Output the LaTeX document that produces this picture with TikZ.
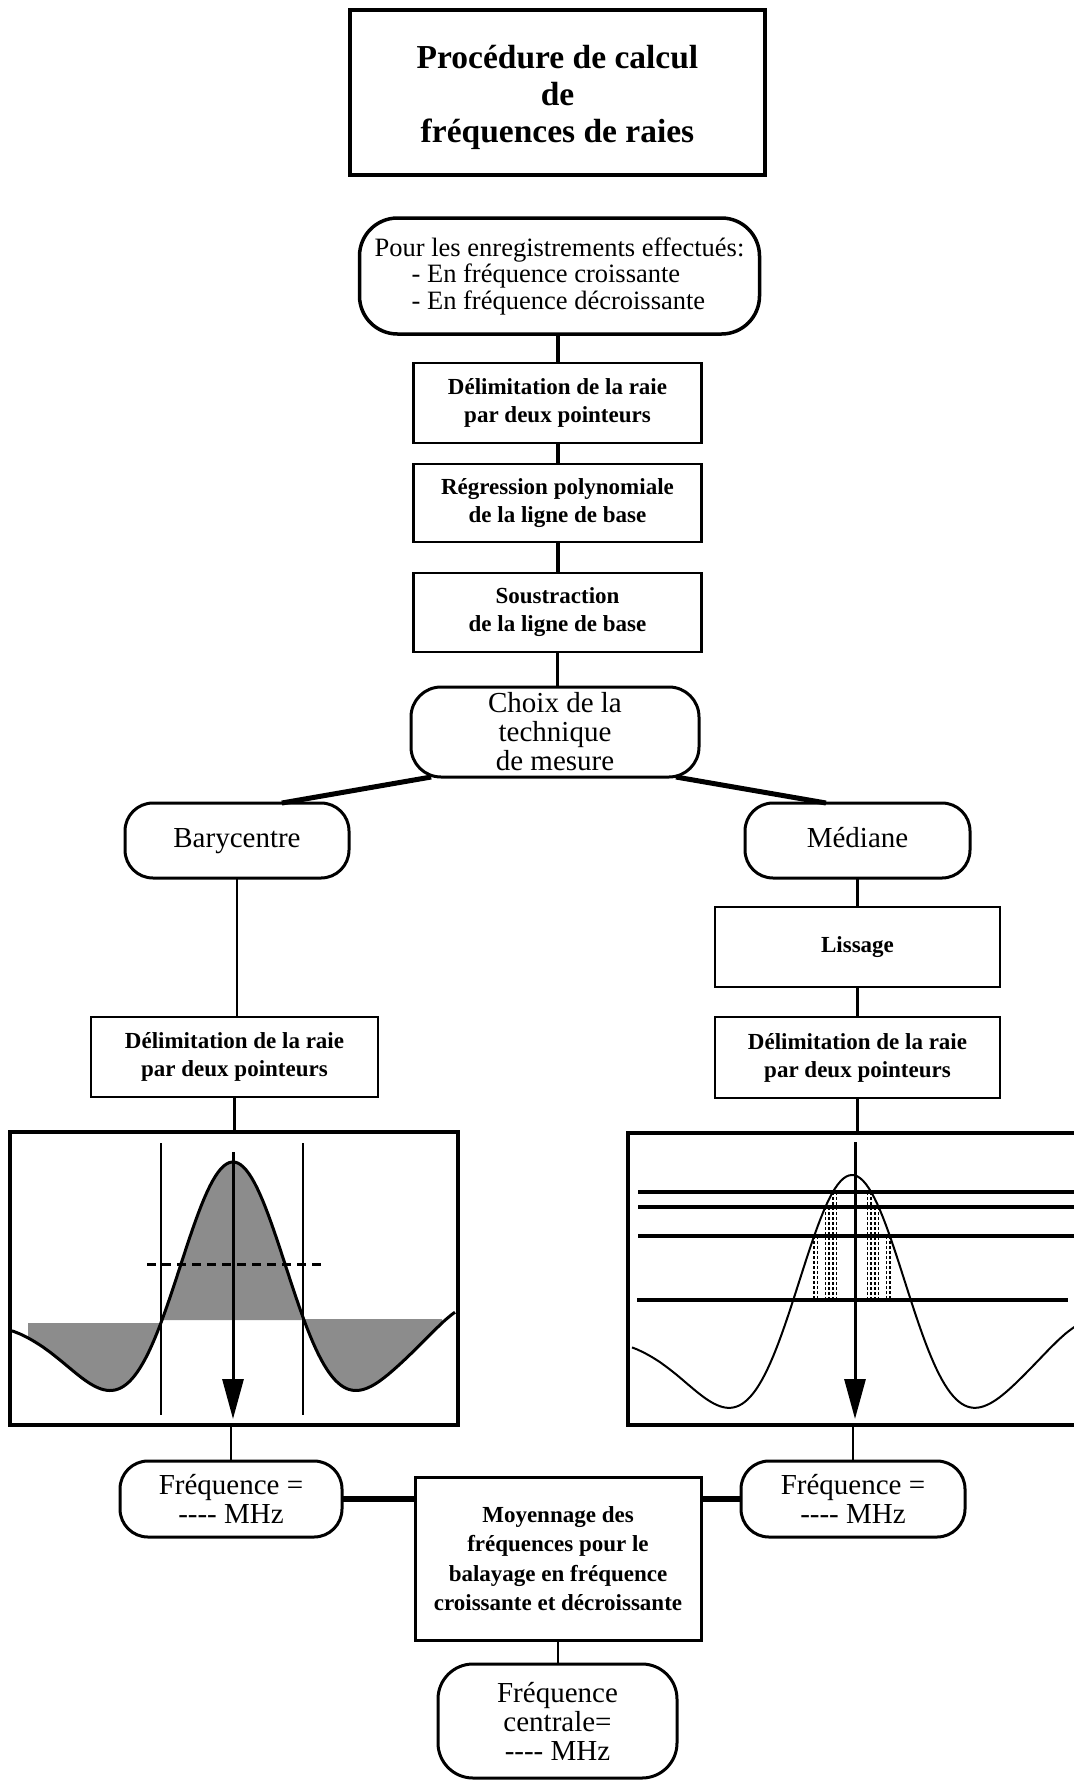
\documentclass[tikz,border=0pt]{standalone}
\usepackage{fontspec}
\setmainfont{Liberation Serif}
\usetikzlibrary{calc,arrows.meta}

% type sizes (1pt = 1 unit of the drawing grid)
\newcommand\FontTitle{\fontsize{33.5}{37}\selectfont\bfseries}
\newcommand\FontPour{\fontsize{26.5}{26.5}\selectfont}
\newcommand\FontBody{\fontsize{29}{29}\selectfont}
\newcommand\FontStep{\fontsize{23}{28}\selectfont\bfseries}
\newcommand\FontMoy{\fontsize{23}{29.5}\selectfont\bfseries}

\begin{document}
\begin{tikzpicture}[x=1pt, y=-1pt,
  every node/.style={inner sep=0pt, outer sep=0pt},
  titlebox/.style={draw, line width=4pt},
  roundbox/.style={draw, line width=3pt, rounded corners=#1, align=center, font=\FontBody},
  roundbox/.default=28pt,
  oneline/.style={text height=20pt, text depth=7pt},
  stepbox/.style={draw, line width=2.5pt, align=center, font=\FontStep},
  plotframe/.style={draw, line width=4pt},
  link/.style={line width=2.5pt},
  thicklink/.style={line width=4pt},
  branch/.style={line width=5pt},
  bridge/.style={line width=6pt},
  curve/.style={line width=3pt, line join=round},
  thincurve/.style={line width=2pt, line join=round},
  shade/.style={fill=black!45},
  level/.style={line width=3.5pt},
  medline/.style={line width=1.6pt, dash pattern=on 3pt off 2pt},
  pointer/.style={line width=3pt, -{Triangle[length=40pt,width=21pt]}},
]
\useasboundingbox (0,0) rectangle (1073,1782);
\fill[white] (0,0) rectangle (1073,1782);

% ---------- title ----------
\node[titlebox, minimum width=415pt, minimum height=165pt] (title) at (557.5,92.5) {};
\node[font=\FontTitle, align=center] (titletext) at (557.5,97) {Procédure de calcul\\de\\fréquences de raies};

% ---------- common preprocessing ----------
\node[roundbox=38pt, line width=3.5pt, minimum width=400pt, minimum height=116pt,
      align=left, font=\FontPour] (pour) at (559.5,276)
  {Pour les enregistrements effectués:\\\hspace*{37pt}- En fréquence croissante\\\hspace*{37pt}- En fréquence décroissante};

\node[stepbox, minimum width=288pt, minimum height=80pt] (delim) at (557.5,403) {Délimitation de la raie\\par deux pointeurs};
\node[stepbox, minimum width=288pt, minimum height=78pt] (regr) at (557.5,503) {Régression polynomiale\\de la ligne de base};
\node[stepbox, minimum width=288pt, minimum height=79pt] (soustr) at (557.5,612.5) {Soustraction\\de la ligne de base};
\node[roundbox=30pt, minimum width=288pt, minimum height=90pt] (choix) at (555,732) {Choix de la\\technique\\de mesure};

% ---------- the two techniques ----------
\node[roundbox, oneline, minimum width=224pt, minimum height=75pt] (bary) at (237,840.5) {Barycentre};
\node[roundbox, oneline, minimum width=225pt, minimum height=75pt] (median) at (857.5,840.5) {Médiane};
\node[stepbox, minimum width=285pt, minimum height=80pt] (liss) at (857.5,947) {Lissage};
\node[stepbox, minimum width=287pt, minimum height=80pt] (delimL) at (234.5,1057) {Délimitation de la raie\\par deux pointeurs};
\node[stepbox, minimum width=285pt, minimum height=81pt] (delimR) at (857.5,1057.5) {Délimitation de la raie\\par deux pointeurs};

\node[plotframe, minimum width=448pt, minimum height=293pt] (plotL) at (234,1278.5) {};
\node[plotframe, minimum width=457pt, minimum height=292pt] (plotR) at (856.5,1279) {};

% ---------- results ----------
\node[roundbox, minimum width=222pt, minimum height=76pt] (freqL) at (231,1499) {Fréquence =\\-{}-{}-{}- MHz};
\node[roundbox, minimum width=224pt, minimum height=76pt] (freqR) at (853,1499) {Fréquence =\\-{}-{}-{}- MHz};
\node[stepbox, line width=3pt, minimum width=286pt, minimum height=163pt, font=\FontMoy] (moy) at (558,1558.5)
  {Moyennage des\\fréquences pour le\\balayage en fréquence\\croissante et décroissante};
\node[roundbox=35pt, minimum width=239pt, minimum height=114pt] (central) at (557.5,1721) {Fréquence\\centrale=\\-{}-{}-{}- MHz};

% ---------- connectors ----------
\draw[thicklink] (delim.north |- pour.south) -- (delim.north);
\draw[thicklink] (delim) -- (regr);
\draw[thicklink] (regr) -- (soustr);
\draw[link] (choix.north -| soustr.south) -- (soustr.south);
\draw[branch] ($(choix.south west)!0.07!(choix.south east)$) -- ($(bary.north west)!0.70!(bary.north east)$);
\draw[branch] ($(choix.south west)!0.92!(choix.south east)$) -- ($(median.north west)!0.36!(median.north east)$);
\draw[link] (bary.south) -- (bary.south |- delimL.north);
\draw[link] (median) -- (liss);
\draw[line width=3pt] (liss) -- (delimR);
\draw[link] (delimL.south) -- (delimL.south |- plotL.north);
\draw[link] (delimR.south) -- (delimR.south |- plotR.north);
\draw[link] (plotL.south -| freqL.north) -- (freqL.north);
\draw[link] (plotR.south -| freqR.north) -- (freqR.north);
\draw[bridge] (freqL.east) -- (freqL.east -| moy.west);
\draw[bridge] (freqR.west) -- (freqR.west -| moy.east);
\draw[link] (moy.south) -- (moy.south |- central.north);

% ---------- barycentre plot ----------
\fill[shade] plot[domain=28:162, samples=60]
  (\x,{1320-158*(1-((\x-233)/71)*((\x-233)/71))*exp(-((\x-233)/71)*((\x-233)/71)/2)})
  -- (162,1323) -- (28,1323) -- cycle;
\fill[shade] plot[domain=162:304, samples=60]
  (\x,{1320-158*(1-((\x-233)/71)*((\x-233)/71))*exp(-((\x-233)/71)*((\x-233)/71)/2)}) -- cycle;
\fill[shade] plot[domain=304:442, samples=60]
  (\x,{1320-158*(1-((\x-233)/71)*((\x-233)/71))*exp(-((\x-233)/71)*((\x-233)/71)/2)-21*exp(-((\x-470)/40)*((\x-470)/40))})
  -- (442,1319) -- (304,1319) -- cycle;
\draw[curve] plot[domain=12:455, samples=160]
  (\x,{1320-158*(1-((\x-233)/71)*((\x-233)/71))*exp(-((\x-233)/71)*((\x-233)/71)/2)-21*exp(-((\x-470)/40)*((\x-470)/40))});
\draw[line width=2pt] (161,1143) -- (161,1415);
\draw[line width=2pt] (303,1143) -- (303,1415);
\draw[line width=3pt, dash pattern=on 9pt off 6pt] (147,1264) -- (325,1264);
\draw[pointer] (233,1152) -- (233,1419);

% ---------- median plot ----------
\foreach \yl in {1192,1207,1236} \draw[level] (638,\yl) -- (1076,\yl);
\draw[level] (637,1300) -- (1068,1300);
\draw[thincurve] plot[domain=632:1080, samples=160]
  (\x,{1336-161*(1-((\x-852)/71)*((\x-852)/71))*exp(-((\x-852)/71)*((\x-852)/71)/2)-22*exp(-((\x-1090)/45)*((\x-1090)/45))});
\foreach \xa/\yt in {814/1236, 825.4/1207, 833/1192} {
  \draw[medline] (\xa,\yt) -- (\xa,1300);
  \draw[medline] (\xa+3.5,\yt) -- (\xa+3.5,1300);
  \draw[medline] (1704-\xa,\yt) -- (1704-\xa,1300);
  \draw[medline] (1700.5-\xa,\yt) -- (1700.5-\xa,1300);
}
\draw[pointer] (855,1142) -- (855,1419);
\end{tikzpicture}
\end{document}
